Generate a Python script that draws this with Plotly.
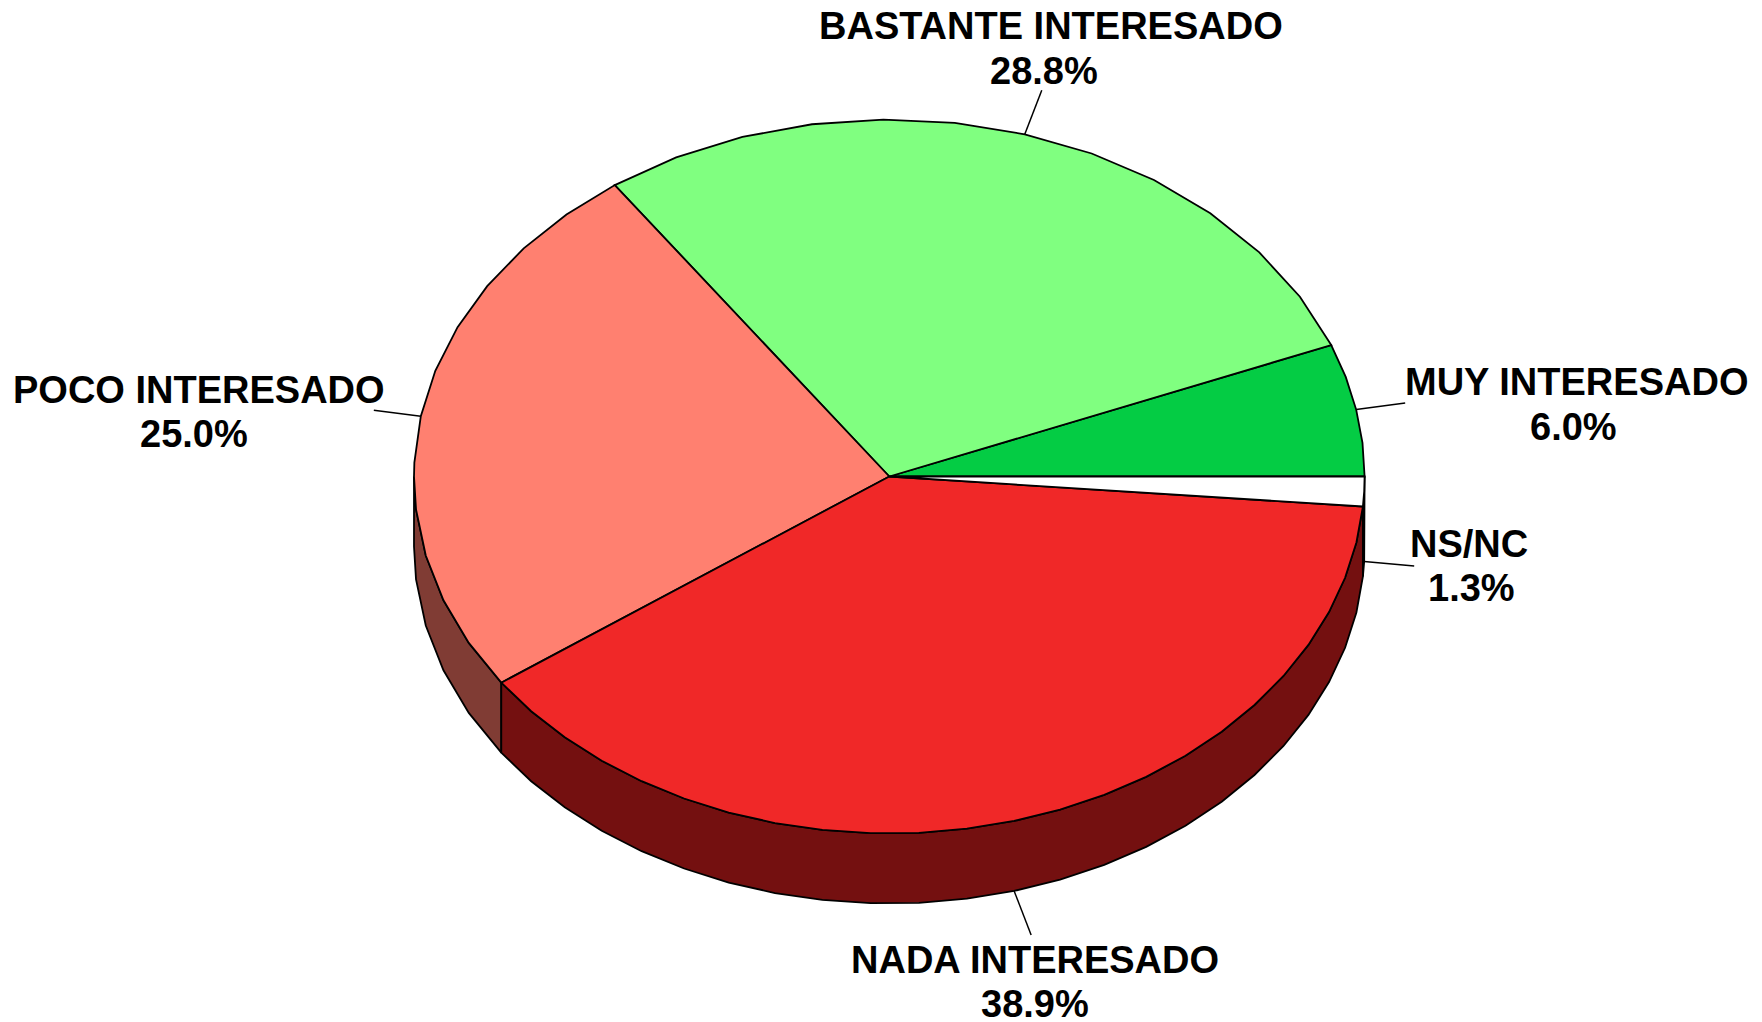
import numpy as np
import plotly.graph_objects as go

labels = ["MUY INTERESADO", "BASTANTE INTERESADO", "POCO INTERESADO", "NADA INTERESADO", "NS/NC"]
values = [6.0, 28.8, 25.0, 38.86, 1.34]
top_colors = ["#04CC44", "#80FF80", "#FF8070", "#F02828", "#FFFFFF"]
side_colors = ["#026622", "#408040", "#803C34", "#741010", "#FFFFFF"]
arc_segments = [4, 12, 12, 24, 2]
name_x = [1576.5, 1051, 199, 1035, 1469]
name_y = [382, 26, 390, 960, 544]
pct_x = [1573, 1044, 194, 1035, 1471.5]
pct_y = [427, 71, 434, 1003.5, 588]
leader_dx = [49, 17, -47, 17, 50]
leader_dy = [-6.5, -44, -6, 44, 4.5]

W, H = 1762, 1022
CX, CY, RX, RY, DEPTH = 889.3, 476.5, 475.3, 357, 70
LINE = dict(color="#000000", width=1.8)
FONT = dict(family="Liberation Sans, Arial, sans-serif", size=38, color="#000000")


def arc_angles(a0, a1, n):
    base = np.linspace(a0, a1, n + 1)
    extra = [q for q in (180.0,) if a0 < q < a1]
    return np.unique(np.r_[base, extra])


def edge(angles, dz=0.0):
    r = np.radians(angles)
    return CX + RX * np.cos(r), CY - RY * np.sin(r) + dz


fig = go.Figure()
edges = np.concatenate(([0], np.cumsum(values))) * 3.6
edges[-1] = 360.0


def polygon(x, y, color):
    fig.add_trace(go.Scatter(
        x=list(x), y=list(y), mode="lines", fill="toself", fillcolor=color,
        line=LINE, hoverinfo="skip", showlegend=False))


# walls of the visible lower half
for a0, a1, n, color in zip(edges[:-1], edges[1:], arc_segments, side_colors):
    ang = arc_angles(a0, a1, n)
    ang = ang[(ang >= 180.0) & (ang <= 360.0)]
    if len(ang) < 2:
        continue
    x1, y1 = edge(ang)
    x2, y2 = edge(ang[::-1], DEPTH)
    polygon(np.r_[x1, x2, x1[0]], np.r_[y1, y2, y1[0]], color)

# top faces
for a0, a1, n, color in zip(edges[:-1], edges[1:], arc_segments, top_colors):
    x, y = edge(arc_angles(a0, a1, n))
    polygon(np.r_[CX, x, CX], np.r_[CY, y, CY], color)

# leaders and labels
for i, name in enumerate(labels):
    mid = (edges[i] + edges[i + 1]) / 2
    x0, y0 = edge(np.array([mid]), DEPTH if 180 < mid < 360 else 0.0)
    fig.add_trace(go.Scatter(
        x=[x0[0], x0[0] + leader_dx[i]], y=[y0[0], y0[0] + leader_dy[i]],
        mode="lines", line=dict(color="#000000", width=1.5),
        hoverinfo="skip", showlegend=False))
    fig.add_annotation(x=name_x[i], y=name_y[i], xref="x", yref="y",
                       text=f"<b>{name}</b>", showarrow=False, font=FONT,
                       xanchor="center", yanchor="middle")
    fig.add_annotation(x=pct_x[i], y=pct_y[i], xref="x", yref="y",
                       text=f"<b>{values[i]:.1f}%</b>", showarrow=False, font=FONT,
                       xanchor="center", yanchor="middle")

fig.update_layout(
    autosize=True,
    margin=dict(l=0, r=0, t=0, b=0),
    paper_bgcolor="#FFFFFF", plot_bgcolor="#FFFFFF",
    showlegend=False,
    xaxis=dict(range=[0, W], visible=False, fixedrange=True),
    yaxis=dict(range=[H, 0], visible=False, fixedrange=True),
)
fig.write_html("out.html", config=dict(displayModeBar=False, responsive=True),
               default_width="100vw", default_height="100vh",
               post_script="document.body.style.margin='0';window.dispatchEvent(new Event('resize'));")
